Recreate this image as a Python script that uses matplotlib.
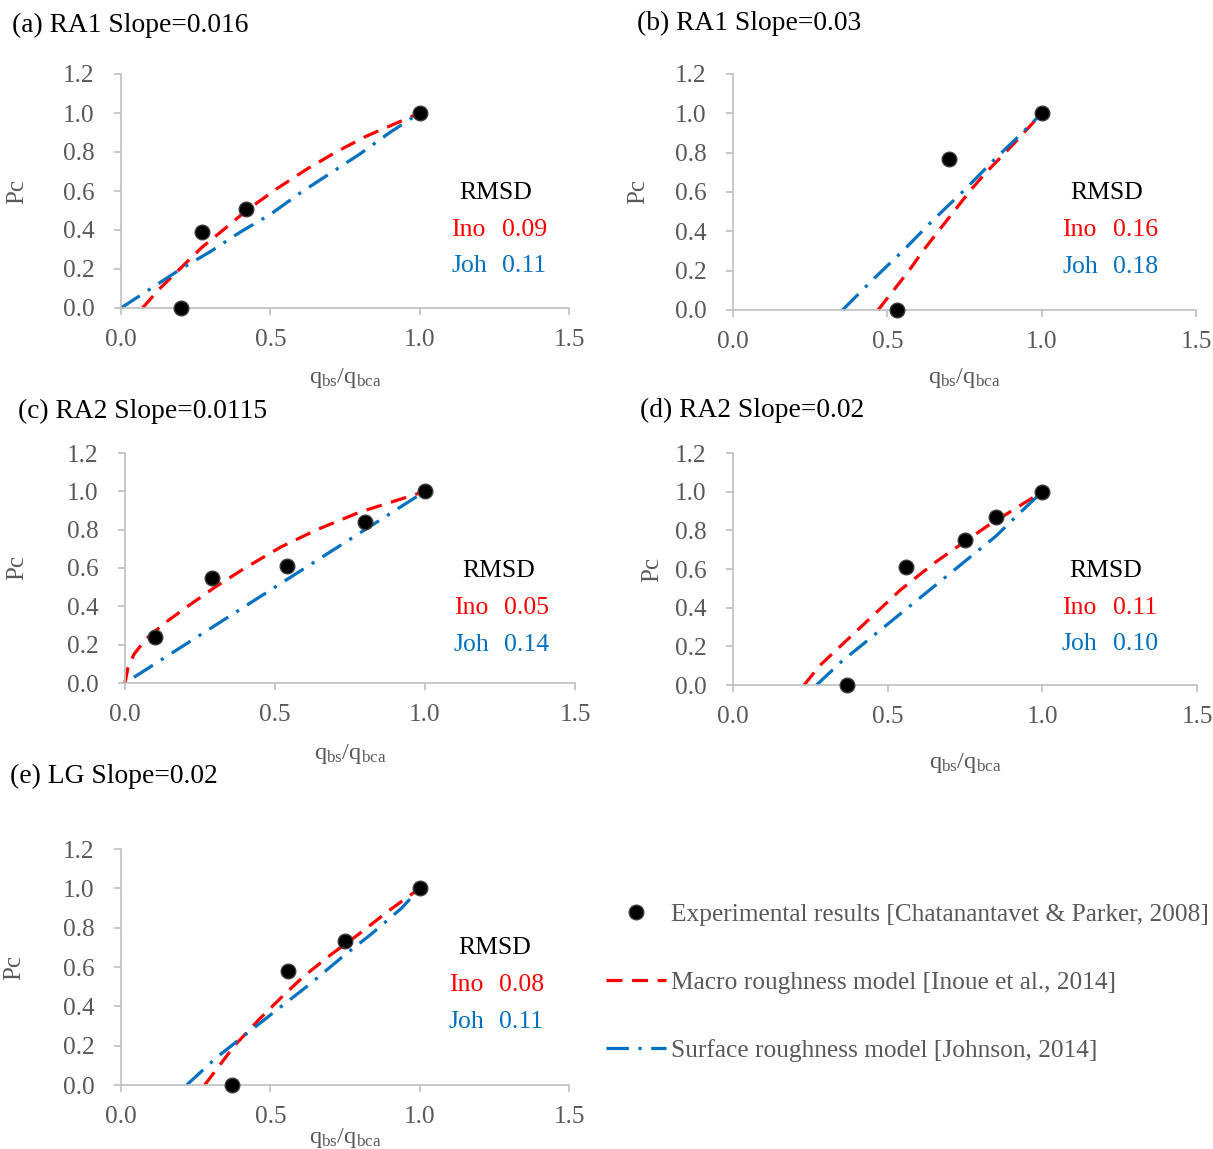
import matplotlib
matplotlib.use("Agg")
import matplotlib.pyplot as plt

plt.rcParams['font.family'] = 'Liberation Serif'
plt.rcParams['mathtext.fontset'] = 'custom'
plt.rcParams['mathtext.rm'] = 'Liberation Serif'
plt.rcParams['mathtext.it'] = 'Liberation Serif:italic'
plt.rcParams['font.size'] = 18

RED = '#FF0000'
BLUE = '#0070C0'
GRAY_TXT = '#595959'
GRAY_AX = '#BFBFBF'

#------------------------------------------------------------------------------#
# data (Pc vs qbs/qbca)

titles = ["(a) RA1 Slope=0.016", "(b) RA1 Slope=0.03", "(c) RA2 Slope=0.0115",
          "(d) RA2 Slope=0.02", "(e) LG Slope=0.02"]

rmsd_ino = [0.09, 0.16, 0.05, 0.11, 0.08]
rmsd_joh = [0.11, 0.18, 0.14, 0.10, 0.11]

# (a) RA1 S=0.016
a_exp_x = [0.20, 0.27, 0.42, 1.00]
a_exp_y = [0.00, 0.39, 0.51, 1.00]
a_ino_x = [0.072, 0.13, 0.19, 0.27, 0.35, 0.42, 0.52, 0.62, 0.72, 0.82, 0.91, 1.00]
a_ino_y = [0.00, 0.10, 0.19, 0.31, 0.41, 0.50, 0.61, 0.71, 0.80, 0.88, 0.94, 1.00]
a_joh_x = [0.00, 0.10, 0.20, 0.30, 0.40, 0.50, 0.60, 0.70, 0.80, 0.90, 1.00]
a_joh_y = [0.00, 0.10, 0.20, 0.29, 0.39, 0.48, 0.59, 0.69, 0.79, 0.90, 1.00]

# (b) RA1 S=0.03
b_exp_x = [0.53, 0.70, 1.00]
b_exp_y = [0.00, 0.77, 1.00]
b_ino_x = [0.47, 0.52, 0.57, 0.62, 0.67, 0.72, 0.77, 0.82, 0.87, 0.93, 1.00]
b_ino_y = [0.00, 0.10, 0.20, 0.31, 0.41, 0.51, 0.61, 0.70, 0.78, 0.88, 1.00]
b_joh_x = [0.355, 0.45, 0.55, 0.65, 0.75, 0.85, 0.93, 1.00]
b_joh_y = [0.00, 0.15, 0.30, 0.46, 0.61, 0.77, 0.89, 1.00]

# (c) RA2 S=0.0115
c_exp_x = [0.10, 0.29, 0.54, 0.80, 1.00]
c_exp_y = [0.24, 0.55, 0.61, 0.84, 1.00]
c_ino_x = [0.00, 0.01, 0.03, 0.07, 0.13, 0.20, 0.30, 0.40, 0.52, 0.64, 0.78, 0.90, 1.00]
c_ino_y = [0.00, 0.08, 0.15, 0.23, 0.31, 0.39, 0.50, 0.60, 0.71, 0.80, 0.89, 0.95, 1.00]
c_joh_x = [0.03, 0.15, 0.30, 0.45, 0.60, 0.75, 0.90, 1.00]
c_joh_y = [0.03, 0.15, 0.30, 0.45, 0.60, 0.75, 0.90, 1.00]

# (d) RA2 S=0.02
d_exp_x = [0.37, 0.56, 0.75, 0.85, 1.00]
d_exp_y = [0.00, 0.61, 0.75, 0.87, 1.00]
d_ino_x = [0.23, 0.28, 0.34, 0.40, 0.46, 0.54, 0.65, 0.73, 0.82, 0.93, 1.00]
d_ino_y = [0.00, 0.10, 0.19, 0.28, 0.37, 0.49, 0.63, 0.72, 0.82, 0.93, 1.00]
d_joh_x = [0.27, 0.35, 0.45, 0.55, 0.65, 0.75, 0.85, 0.94, 1.00]
d_joh_y = [0.00, 0.12, 0.25, 0.38, 0.51, 0.64, 0.77, 0.91, 1.00]

# (e) LG S=0.02
e_exp_x = [0.37, 0.56, 0.75, 1.00]
e_exp_y = [0.00, 0.58, 0.73, 1.00]
e_ino_x = [0.28, 0.33, 0.38, 0.46, 0.54, 0.61, 0.70, 0.79, 0.90, 1.00]
e_ino_y = [0.00, 0.10, 0.20, 0.33, 0.45, 0.55, 0.66, 0.76, 0.89, 1.00]
e_joh_x = [0.22, 0.32, 0.42, 0.52, 0.63, 0.74, 0.84, 0.94, 1.00]
e_joh_y = [0.00, 0.14, 0.26, 0.38, 0.51, 0.65, 0.77, 0.90, 1.00]

x_ticks = [0.0, 0.5, 1.0, 1.5]
y_ticks = [0.0, 0.2, 0.4, 0.6, 0.8, 1.0, 1.2]

legend_labels = ["Experimental results [Chatanantavet & Parker, 2008]",
                 "Macro roughness model [Inoue et al., 2014]",
                 "Surface roughness model [Johnson, 2014]"]

#------------------------------------------------------------------------------#

series = [(a_exp_x, a_exp_y, a_ino_x, a_ino_y, a_joh_x, a_joh_y),
          (b_exp_x, b_exp_y, b_ino_x, b_ino_y, b_joh_x, b_joh_y),
          (c_exp_x, c_exp_y, c_ino_x, c_ino_y, c_joh_x, c_joh_y),
          (d_exp_x, d_exp_y, d_ino_x, d_ino_y, d_joh_x, d_joh_y),
          (e_exp_x, e_exp_y, e_ino_x, e_ino_y, e_joh_x, e_joh_y)]

W, H = 1213, 1149

# axes boxes in pixels: left, right, top, bottom
boxes = [(121, 569, 74, 308), (733, 1196, 74, 310),
         (125, 575, 453, 683), (733, 1197, 453, 685),
         (121, 569, 849, 1085)]
# title anchors (left, center-y) in pixels
title_pos = [(12, 25), (637, 23), (18, 411), (640, 410), (10, 776)]
# xlabel offset below axis (px), ylabel anchor offset (axes frac)
xlab_off = [70, 68, 71, 78, 53]
ylab_x = [-0.208, -0.18, -0.216, -0.151, -0.214]
# RMSD block: (center x of header, header y, name x, value x, ino y, joh y) in axes fraction
rmsd_pos = [(0.837, 0.491, 0.737, 0.850, 0.333, 0.179),
            (0.808, 0.496, 0.711, 0.821, 0.339, 0.182),
            (0.831, 0.487, 0.731, 0.842, 0.326, 0.165),
            (0.804, 0.491, 0.709, 0.819, 0.332, 0.177),
            (0.833, 0.580, 0.732, 0.844, 0.424, 0.267)]

fig = plt.figure(figsize=(W / 100, H / 100), dpi=100)

handles = None
for i, (ex, ey, ix, iy, jx, jy) in enumerate(series):
    l, r, t, b = boxes[i]
    ax = fig.add_axes([l / W, 1 - b / H, (r - l) / W, (b - t) / H])

    h_ino, = ax.plot(ix, iy, color=RED, lw=2.3, dashes=(5, 3), clip_on=False, zorder=2)
    h_joh, = ax.plot(jx, jy, color=BLUE, lw=2.3, dashes=(7, 3, 1, 3), clip_on=False, zorder=2)
    h_exp, = ax.plot(ex, ey, 'o', ls='none', color='black', ms=10.5,
                     mec='#3a3a3a', mew=1.0, clip_on=False, zorder=3)
    if handles is None:
        handles = [h_exp, h_ino, h_joh]

    ax.set_xlim(0, 1.5)
    ax.set_ylim(0, 1.2)
    ax.set_xticks(x_ticks)
    ax.set_yticks(y_ticks)
    ax.set_xticklabels(["%.1f" % v for v in x_ticks])
    ax.set_yticklabels(["%.1f" % v for v in y_ticks])

    for s in ['top', 'right']:
        ax.spines[s].set_visible(False)
    for s in ['left', 'bottom']:
        ax.spines[s].set_color(GRAY_AX)
        ax.spines[s].set_linewidth(1.2)
    ax.tick_params(axis='both', direction='out', length=5, width=1.2,
                   color=GRAY_AX, labelcolor=GRAY_TXT, labelsize=18.2)
    ax.tick_params(axis='y', pad=14)
    ax.tick_params(axis='x', pad=10)

    ax.set_xlabel(r'q$_{\mathrm{bs}}$/q$_{\mathrm{bca}}$', color=GRAY_TXT,
                  fontsize=17.5, va='center')
    ax.xaxis.set_label_coords(0.5, -xlab_off[i] / (b - t))
    ax.set_ylabel('Pc', color=GRAY_TXT, fontsize=18)
    ax.yaxis.set_label_coords(ylab_x[i], 0.5)

    cx, hy, nx, vx, iy_, jy_ = rmsd_pos[i]
    ax.text(cx, hy, 'RMSD', transform=ax.transAxes, ha='center', va='center',
            color='black', fontsize=18.5)
    ax.text(nx, iy_, 'Ino', transform=ax.transAxes, ha='left', va='center',
            color=RED, fontsize=18.5)
    ax.text(vx, iy_, '%.2f' % rmsd_ino[i], transform=ax.transAxes, ha='left',
            va='center', color=RED, fontsize=18.5)
    ax.text(nx, jy_, 'Joh', transform=ax.transAxes, ha='left', va='center',
            color=BLUE, fontsize=18.5)
    ax.text(vx, jy_, '%.2f' % rmsd_joh[i], transform=ax.transAxes, ha='left',
            va='center', color=BLUE, fontsize=18.5)

    tx, ty = title_pos[i]
    fig.text(tx / W, 1 - ty / H, titles[i], ha='left', va='center',
             color='black', fontsize=19.8)

leg = fig.legend(handles, legend_labels, loc='upper left',
                 bbox_to_anchor=(606 / W, 1 - 903 / H), frameon=False,
                 borderaxespad=0, borderpad=0, handlelength=2.36,
                 handletextpad=0.18, labelspacing=1.78, numpoints=1, fontsize=18.3)
for txt in leg.get_texts():
    txt.set_color(GRAY_TXT)

fig.savefig('out.png', dpi=100)
